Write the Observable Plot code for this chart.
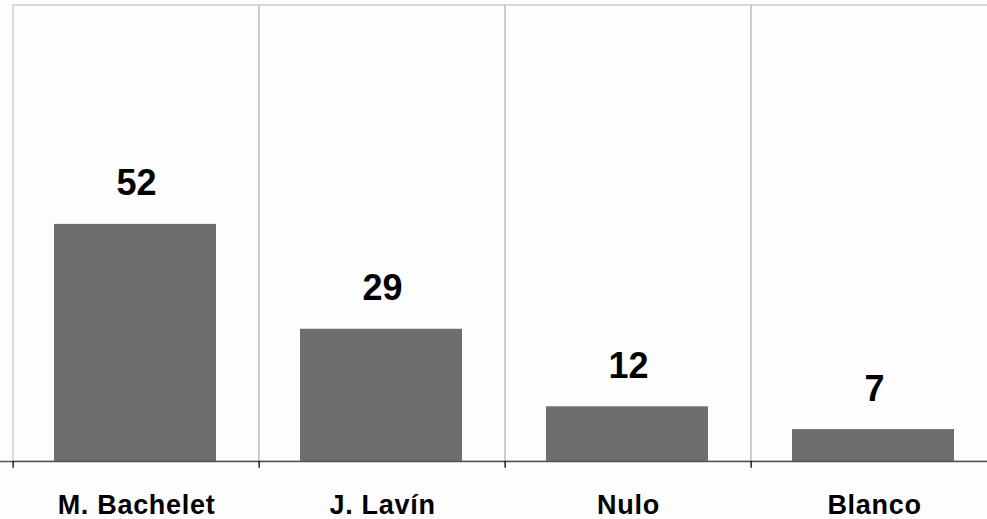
<!DOCTYPE html>
<html>
<head>
<meta charset="utf-8">
<script src="https://cdn.jsdelivr.net/npm/d3@7"></script>
<script src="https://cdn.jsdelivr.net/npm/@observablehq/plot@0.6"></script>
<style>
  html, body { margin: 0; padding: 0; background: #fdfdfd; overflow: hidden; }
  svg { display: block; }
  g[aria-label="x-axis tick label"] text { letter-spacing: 0.7px; }
</style>
</head>
<body>
<div id="chart"></div>
<script>
const categories = ["M. Bachelet", "J. Lavín", "Nulo", "Blanco"];
const values = [52, 29, 12, 7];
const yDomain = [0, 100];

const data = categories.map((c, i) => ({category: c, value: values[i]}));

const W = 987, H = 519;
const x0 = 11, x1 = 998;
const band = (x1 - x0) / categories.length;

const chart = Plot.plot({
  width: W,
  height: H,
  marginTop: 5,
  marginBottom: 58,
  marginLeft: 0,
  marginRight: 0,
  style: {background: "#fdfdfd", fontFamily: "'Liberation Sans', Arial, sans-serif"},
  x: {domain: categories, range: [x0, x1], padding: 0, label: null},
  y: {domain: yDomain, axis: null},
  marks: [
    Plot.cell(categories, {x: d => d, fill: "none", stroke: "#c4c4c4", strokeWidth: 1.2}),
    Plot.barY(data, {x: "category", y: "value", fill: "#6e6e6e", insetLeft: 41, insetRight: 43}),
    Plot.ruleY([0], {stroke: "#555", strokeWidth: 1.6}),
    Plot.ruleX(categories, {x: d => d, y1: 0, y2: -1.5, dx: -band / 2, stroke: "#000", strokeWidth: 1.3}),
    Plot.text(data, {x: "category", y: "value", text: d => String(d.value), dy: -29, lineAnchor: "bottom",
      fontSize: 36, fontWeight: "bold", fill: "#000"}),
    Plot.axisX({tickSize: 0, tickPadding: 33, fontSize: 27, fontWeight: "bold", fill: "#000", label: null})
  ]
});
document.getElementById("chart").appendChild(chart);
</script>
</body>
</html>
